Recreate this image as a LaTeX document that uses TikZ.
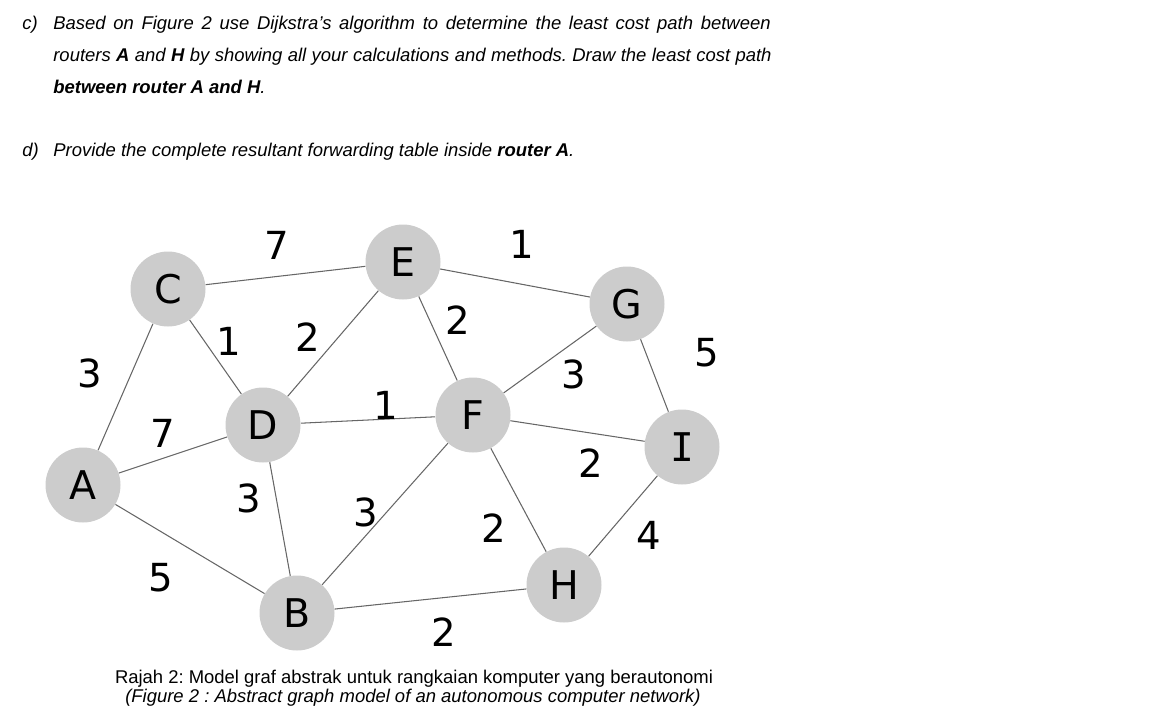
\documentclass[tikz,border=0pt]{standalone}
\usepackage{fontspec}
\setmainfont{Liberation Sans}
\newfontfamily\vfont{DejaVu Sans}
\newfontfamily\vmono{DejaVu Sans Mono}
\frenchspacing

\begin{document}
\begin{tikzpicture}[
  router/.style={circle, fill=gray!40, minimum size=1.5cm, inner sep=0pt,
    font=\vfont\fontsize{22.5}{24}\selectfont},
  cost/.style={inner sep=0pt, font=\vfont\fontsize{22}{24}\selectfont},
  link/.style={draw=black!60, line width=0.6pt},
  txt/.style={anchor=base west, inner sep=0pt, font=\fontsize{10.5}{12}\selectfont\itshape},
  captxt/.style={anchor=base, inner sep=0pt, font=\fontsize{10.5}{12}\selectfont}
]
\useasboundingbox (0,0) rectangle (23.04,-14.52);
% Question text
\node[txt] (qc) at (0.44,-0.58) {c)};
\node[txt] (qc1) at (1.06,-0.58) {\makebox[408.2pt][s]{Based on Figure 2 use Dijkstra's algorithm to determine the least cost path between}};
\node[txt] (qc2) at (1.06,-1.22) {\makebox[408.7pt][s]{routers \textbf{A} and \textbf{H} by showing all your calculations and methods. Draw the least cost path}};
\node[txt] (qc3) at (1.06,-1.86) {\textbf{between router A and H}.};
\node[txt] (qd) at (0.44,-3.12) {d)};
\node[txt] (qd1) at (1.06,-3.12) {Provide the complete resultant forwarding table inside \textbf{router A}.};
% Routers
\node[router] (A) at (1.66,-9.70) {A};
\node[router] (C) at (3.36,-5.78) {C};
\node[router] (E) at (8.06,-5.24) {E};
\node[router] (D) at (5.26,-8.50) {D};
\node[router] (F) at (9.46,-8.30) {F};
\node[router] (B) at (5.94,-12.26) {B};
\node[router] (G) at (12.54,-6.08) {G};
\node[router] (I) at (13.64,-8.94) {\vmono I};
\node[router] (H) at (11.28,-11.70) {H};
% Links
\draw[link] (A) -- (C);
\draw[link] (A) -- (D);
\draw[link] (A) -- (B);
\draw[link] (C) -- (E);
\draw[link] (C) -- (D);
\draw[link] (D) -- (E);
\draw[link] (D) -- (F);
\draw[link] (D) -- (B);
\draw[link] (E) -- (F);
\draw[link] (E) -- (G);
\draw[link] (F) -- (G);
\draw[link] (F) -- (I);
\draw[link] (F) -- (B);
\draw[link] (F) -- (H);
\draw[link] (G) -- (I);
\draw[link] (I) -- (H);
\draw[link] (B) -- (H);
% Costs
\node[cost] (cCE) at (5.54,-4.90) {7};
\node[cost] (cEG) at (10.44,-4.88) {1};
\node[cost] (cAC) at (1.80,-7.46) {3};
\node[cost] (cCD) at (4.58,-6.82) {1};
\node[cost] (cDE) at (6.16,-6.74) {2};
\node[cost] (cEF) at (9.16,-6.40) {2};
\node[cost] (cFG) at (11.48,-7.48) {3};
\node[cost] (cGI) at (14.14,-7.06) {5};
\node[cost] (cAD) at (3.26,-8.66) {7};
\node[cost] (cDF) at (7.72,-8.10) {1};
\node[cost] (cFI) at (11.82,-9.26) {2};
\node[cost] (cDB) at (4.98,-9.96) {3};
\node[cost] (cBF) at (7.32,-10.24) {3};
\node[cost] (cFH) at (9.88,-10.56) {2};
\node[cost] (cHI) at (12.98,-10.70) {4};
\node[cost] (cAB) at (3.22,-11.56) {5};
\node[cost] (cBH) at (8.88,-12.64) {2};
% Caption
\node[captxt] (cap1) at (8.28,-13.66) {Rajah 2: Model graf abstrak untuk rangkaian komputer yang berautonomi};
\node[captxt, font=\fontsize{10.5}{12}\selectfont\itshape] (cap2) at (8.26,-14.04) {(Figure 2 : Abstract graph model of an autonomous computer network)};
\end{tikzpicture}
\end{document}
